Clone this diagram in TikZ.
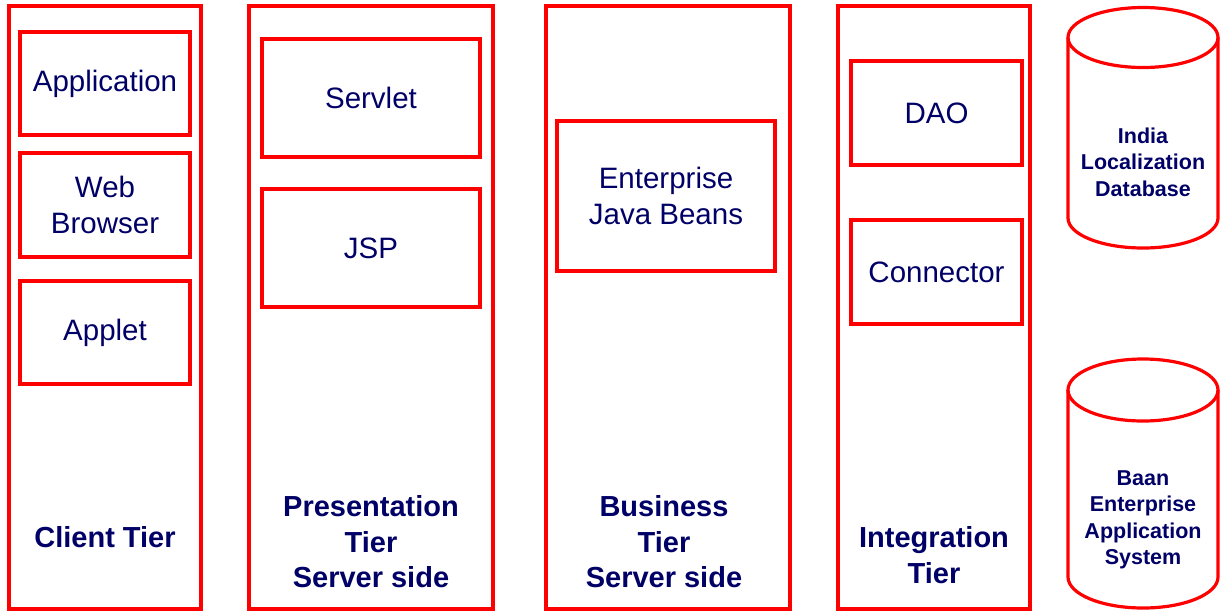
\documentclass[tikz,border=0pt]{standalone}
\usepackage{fontspec}
\setmainfont{Liberation Sans}
\usetikzlibrary{positioning}
\definecolor{tierred}{RGB}{255,0,0}
\definecolor{navytext}{RGB}{0,0,102}

\begin{document}
\begin{tikzpicture}[x=1pt,y=-1pt,
	tier/.style={draw=tierred, line width=3.2pt, inner sep=0pt, minimum height=603pt},
	part/.style={draw=tierred, line width=3.2pt, inner sep=0pt, align=center, text=navytext, font=\fontsize{29.5}{35.5}\selectfont},
	tierlabel/.style={align=center, text=navytext, font=\fontsize{29}{35.5}\selectfont\bfseries},
	dblabel/.style={align=center, text=navytext, font=\fontsize{21.5}{26.5}\selectfont\bfseries},
	db/.style={draw=tierred, line width=3.2pt}]
	\useasboundingbox (0,0) rectangle (1221,611);

	\node[tier, minimum width=192pt] (client) at (105,307.5) {};
	\node[tier, minimum width=244pt] (present) at (371,307.5) {};
	\node[tier, minimum width=244pt] (business) at (668,307.5) {};
	\node[tier, minimum width=192pt] (integ) at (934,307.5) {};

	\node[part, minimum width=170pt, minimum height=103pt] (app) at (105,83.5) {Application};
	\node[part, minimum width=170pt, minimum height=104pt] (browser) at (105,205) {Web\\Browser};
	\node[part, minimum width=170pt, minimum height=103pt] (applet) at (105,332.5) {Applet};

	\node[part, minimum width=218pt, minimum height=118pt] (servlet) at (371,98) {Servlet};
	\node[part, minimum width=218pt, minimum height=118pt] (jsp) at (371,248) {JSP};

	\node[part, minimum width=218pt, minimum height=150pt] (ejb) at (666,196) {Enterprise\\Java Beans};

	\node[part, minimum width=171pt, minimum height=104pt] (dao) at (936.5,113) {DAO};
	\node[part, minimum width=171pt, minimum height=104pt] (connector) at (936.5,272) {Connector};

	\node[tierlabel] (clientlbl) at (105,537) {Client Tier};
	\node[tierlabel] (presentlbl) at (371,542) {Presentation\\Tier\\Server side};
	\node[tierlabel] (businesslbl) at (664,542) {Business\\Tier\\Server side};
	\node[tierlabel] (integlbl) at (934,555) {Integration\\Tier};

	\draw[db] (1068,37.5) -- (1068,218) arc (180:0:75 and 30) -- (1218,37.5);
	\draw[db] (1143,37.5) ellipse (75 and 30);
	\node[dblabel] (indiadb) at (1143,162) {India\\Localization\\Database};

	\draw[db] (1068,390) -- (1068,577) arc (180:0:75 and 31) -- (1218,390);
	\draw[db] (1143,390) ellipse (75 and 31);
	\node[dblabel] (baandb) at (1143,520) {Baan\\Enterprise\\Application\\System};
\end{tikzpicture}
\end{document}
